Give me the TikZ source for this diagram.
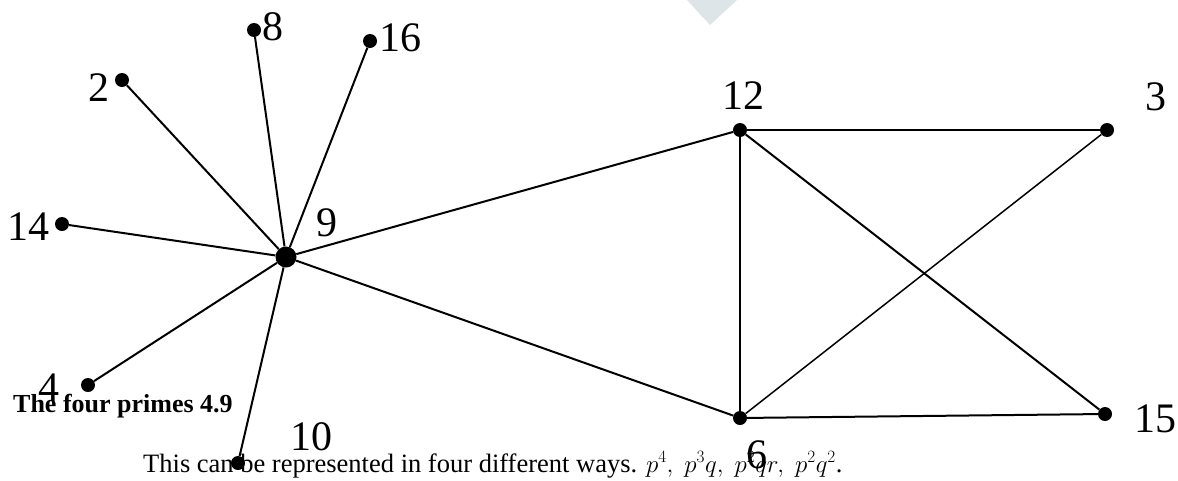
\documentclass[tikz,border=0pt]{standalone}
\usepackage{fontspec}
\setmainfont{Liberation Serif}
\usetikzlibrary{positioning}
\definecolor{wmark}{HTML}{DDE5E9}
\tikzset{
  dot/.style={circle,fill=black,inner sep=0pt,minimum size=14pt},
  hub/.style={dot,minimum size=21pt},
  num/.style={inner sep=0pt,font=\fontsize{42}{42}\selectfont},
  edge/.style={line width=2pt},
  thin edge/.style={line width=1.5pt}
}

\begin{document}
\begin{tikzpicture}[x=1pt,y=-1pt]
    \useasboundingbox (0,0) rectangle (1178,480);
    \fill[wmark] (687,0) -- (737,0) -- (710,25) -- cycle;
    % vertices
    \node[hub] (n9) at (286,257) {};
    \node[dot] (n2) at (122,80) {};
    \node[dot] (n8) at (254,30) {};
    \node[dot] (n16) at (370,41) {};
    \node[dot] (n14) at (62,224) {};
    \node[dot] (n4) at (88,385) {};
    \node[dot] (n10) at (238,463) {};
    \node[dot] (n12) at (740,130) {};
    \node[dot] (n3) at (1107,130) {};
    \node[dot] (n6) at (740,418) {};
    \node[dot] (n15) at (1105,414) {};
    \foreach \x/\y in {n9/n2,n9/n8,n9/n16,n9/n14,n9/n4,n9/n10,n9/n12,n9/n6,n12/n3,n12/n15,n6/n15}
      \draw[edge] (\x)--(\y);
    \foreach \x/\y in {n12/n6,n3/n6}
      \draw[thin edge] (\x)--(\y);
    % labels
    \node[num] (l8) at (273,27) {8};
    \node[num] (l16) at (400,38) {16};
    \node[num] (l2) at (99,88) {2};
    \node[num] (l14) at (29,227) {14};
    \node[num] (l9) at (327,223) {9};
    \node[num] (l12) at (743,96) {12};
    \node[num] (l3) at (1156,97) {3};
    \node[num] (l4) at (49,388) {4};
    \node[num] (l10) at (311,437) {10};
    \node[num] (l6) at (757,455) {6};
    \node[num] (l15) at (1155,419) {15};
    % captions
    \node[anchor=base west,inner sep=0pt,font=\fontsize{26}{26}\selectfont\bfseries] (cap) at (13,412) {The four primes 4.9};
    \node[anchor=base west,inner sep=0pt,font=\fontsize{26.5}{26.5}\selectfont] (txt) at (143,472) {This can be represented in four different ways. $p^4,\;p^3q,\;p^2qr,\;p^2q^2$.};
  \end{tikzpicture}
\end{document}
